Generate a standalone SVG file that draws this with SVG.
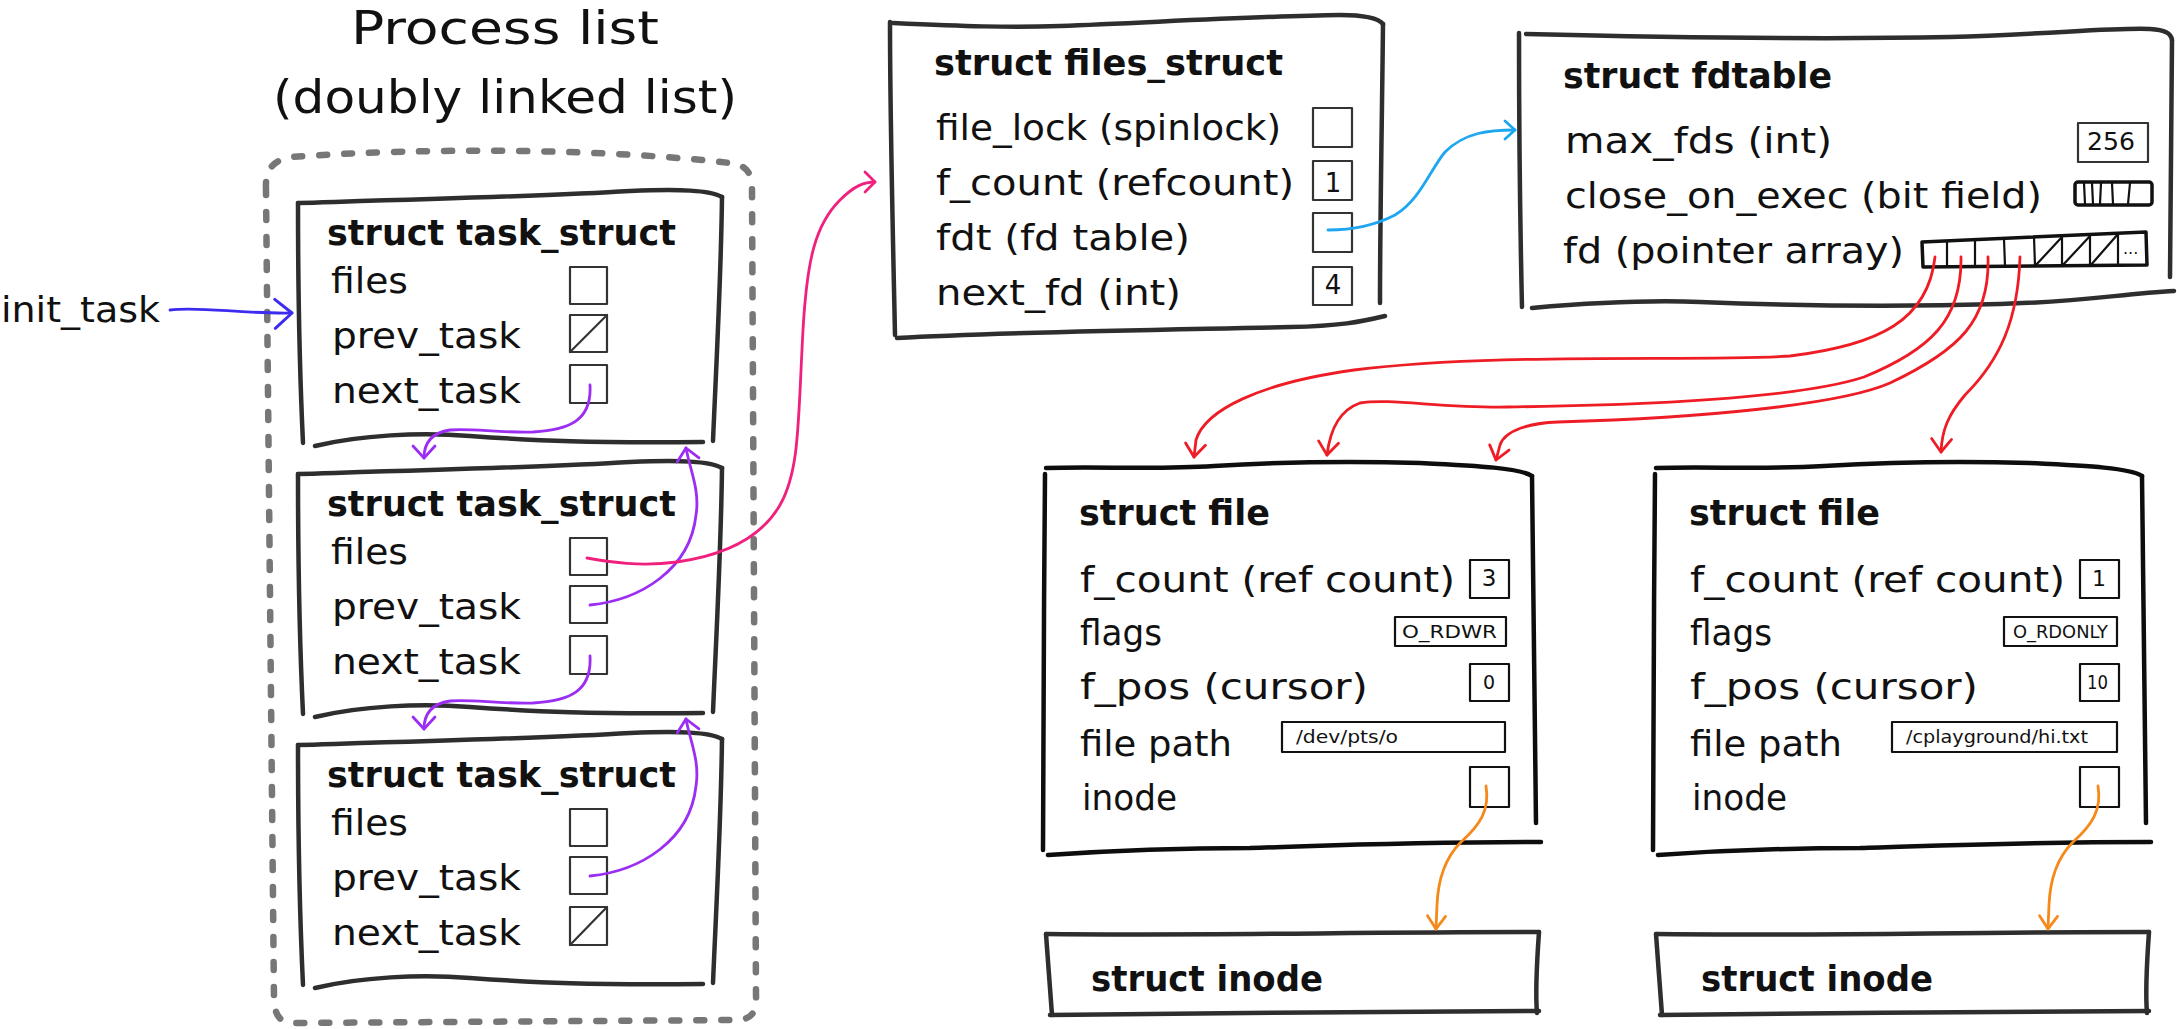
<svg xmlns="http://www.w3.org/2000/svg" width="2177" height="1029" viewBox="0 0 2177 1029">
<style>
.hand{font-family:"DejaVu Sans","Liberation Sans",sans-serif;font-size:36px;fill:#111}
.title{font-family:"DejaVu Sans","Liberation Sans",sans-serif;font-size:46px;fill:#111}
.bold{font-family:"DejaVu Sans","Liberation Sans",sans-serif;font-weight:bold;font-size:35px;fill:#111}
.val{font-family:"DejaVu Sans","Liberation Sans",sans-serif;fill:#111}
.frame{fill:none;stroke:#2e2e2e;stroke-width:4.5;stroke-linecap:round;stroke-linejoin:round}
.frameb{fill:none;stroke:#0d0d0d;stroke-width:4.5;stroke-linecap:round;stroke-linejoin:round}
.cell{fill:none;stroke:#333;stroke-width:2.2;stroke-linecap:round;stroke-linejoin:round}
.cellb{fill:none;stroke:#111;stroke-width:2.2;stroke-linecap:round;stroke-linejoin:round}
.thick{fill:none;stroke:#111;stroke-width:3.5;stroke-linecap:round;stroke-linejoin:round}
.dash{fill:none;stroke:#777;stroke-width:6.5;stroke-linecap:round;stroke-dasharray:8 17}
.conn{fill:none;stroke-width:2.8;stroke-linecap:round;stroke-linejoin:round}
</style>
<defs>
<marker id="ah-red" viewBox="-16 -14 20 28" markerWidth="20" markerHeight="28" refX="0" refY="0" orient="auto" markerUnits="userSpaceOnUse"><path d="M-13,-10 L0,0 L-13,10" fill="none" stroke="#ee1d25" stroke-width="2.8" stroke-linecap="round" stroke-linejoin="round"/></marker>
<marker id="ah-purple" viewBox="-16 -14 20 28" markerWidth="20" markerHeight="28" refX="0" refY="0" orient="auto" markerUnits="userSpaceOnUse"><path d="M-12,-11 L0,0 L-12,11" fill="none" stroke="#9b2ef2" stroke-width="2.8" stroke-linecap="round" stroke-linejoin="round"/></marker>
<marker id="ah-pink" viewBox="-16 -14 20 28" markerWidth="20" markerHeight="28" refX="0" refY="0" orient="auto" markerUnits="userSpaceOnUse"><path d="M-10,-10 L0,0 L-10,10" fill="none" stroke="#f0207f" stroke-width="2.8" stroke-linecap="round" stroke-linejoin="round"/></marker>
<marker id="ah-sky" viewBox="-16 -14 20 28" markerWidth="20" markerHeight="28" refX="0" refY="0" orient="auto" markerUnits="userSpaceOnUse"><path d="M-10,-9 L0,0 L-10,9" fill="none" stroke="#1ea7f0" stroke-width="2.8" stroke-linecap="round" stroke-linejoin="round"/></marker>
<marker id="ah-blue" viewBox="-20 -18 24 36" markerWidth="24" markerHeight="36" refX="0" refY="0" orient="auto" markerUnits="userSpaceOnUse"><path d="M-17,-14 L0,0 L-17,15" fill="none" stroke="#3d2cf0" stroke-width="3" stroke-linecap="round" stroke-linejoin="round"/></marker>
<marker id="ah-orange" viewBox="-16 -14 20 28" markerWidth="20" markerHeight="28" refX="0" refY="0" orient="auto" markerUnits="userSpaceOnUse"><path d="M-13,-9 L0,0 L-13,9" fill="none" stroke="#f5891a" stroke-width="2.8" stroke-linecap="round" stroke-linejoin="round"/></marker>
</defs>
<rect width="2177" height="1029" fill="#fff"/>

<g id="process-list">
<text class="title" x="351" y="44" textLength="308" lengthAdjust="spacingAndGlyphs">Process list</text>
<text class="title" x="273" y="113" textLength="464" lengthAdjust="spacingAndGlyphs">(doubly linked list)</text>
<path class="dash" d="M266,190 C265,170 272,160 292,157 C360,152 440,150 520,151 C600,152 680,157 730,163 C746,165 752,172 752,190 L756,995 C757,1012 752,1020 735,1020 L295,1023 C280,1023 275,1016 274,1000 Z"/>
</g>

<g id="init-task">
<text class="hand" x="1" y="322" textLength="159" lengthAdjust="spacingAndGlyphs">init_task</text>
</g>

<g id="task1">
<path class="frame" d="M298,203 C400,200 550,196 630,191 C680,189 710,190 722,197"/>
<path class="frame" d="M722,197 C721,280 716,370 713,441"/>
<path class="frame" d="M298,203 C298,280 300,380 303,443"/>
<path class="frame" d="M315,446 C360,435 420,432 470,436 C540,441 590,443 703,442"/>
<text class="bold" x="327" y="245" textLength="349" lengthAdjust="spacingAndGlyphs">struct task_struct</text>
<text class="hand" x="331" y="293" textLength="77" lengthAdjust="spacingAndGlyphs">files</text>
<text class="hand" x="332" y="348" textLength="189" lengthAdjust="spacingAndGlyphs">prev_task</text>
<text class="hand" x="332" y="403" textLength="189" lengthAdjust="spacingAndGlyphs">next_task</text>
<rect class="cell" x="570" y="267" width="37" height="37"/>
<rect class="cell" x="570" y="315" width="37" height="37"/>
<path class="cell" d="M570,352 L607,315"/>
<rect class="cell" x="570" y="365" width="37" height="38"/>
</g>

<g id="task2" transform="translate(0,271)">
<path class="frame" d="M298,203 C400,200 550,196 630,191 C680,189 710,190 722,197"/>
<path class="frame" d="M722,197 C721,280 716,370 713,441"/>
<path class="frame" d="M298,203 C298,280 300,380 303,443"/>
<path class="frame" d="M315,446 C360,435 420,432 470,436 C540,441 590,443 703,442"/>
<text class="bold" x="327" y="245" textLength="349" lengthAdjust="spacingAndGlyphs">struct task_struct</text>
<text class="hand" x="331" y="293" textLength="77" lengthAdjust="spacingAndGlyphs">files</text>
<text class="hand" x="332" y="348" textLength="189" lengthAdjust="spacingAndGlyphs">prev_task</text>
<text class="hand" x="332" y="403" textLength="189" lengthAdjust="spacingAndGlyphs">next_task</text>
<rect class="cell" x="570" y="267" width="37" height="37"/>
<rect class="cell" x="570" y="315" width="37" height="37"/>
<rect class="cell" x="570" y="365" width="37" height="38"/>
</g>

<g id="task3" transform="translate(0,542)">
<path class="frame" d="M298,203 C400,200 550,196 630,191 C680,189 710,190 722,197"/>
<path class="frame" d="M722,197 C721,280 716,370 713,441"/>
<path class="frame" d="M298,203 C298,280 300,380 303,443"/>
<path class="frame" d="M315,446 C360,435 420,432 470,436 C540,441 590,443 703,442"/>
<text class="bold" x="327" y="245" textLength="349" lengthAdjust="spacingAndGlyphs">struct task_struct</text>
<text class="hand" x="331" y="293" textLength="77" lengthAdjust="spacingAndGlyphs">files</text>
<text class="hand" x="332" y="348" textLength="189" lengthAdjust="spacingAndGlyphs">prev_task</text>
<text class="hand" x="332" y="403" textLength="189" lengthAdjust="spacingAndGlyphs">next_task</text>
<rect class="cell" x="570" y="267" width="37" height="37"/>
<rect class="cell" x="570" y="315" width="37" height="37"/>
<rect class="cell" x="570" y="365" width="37" height="38"/>
<path class="cell" d="M570,403 L607,365"/>
</g>

<g id="files-struct">
<path class="frame" d="M893,23 C960,26 1010,28 1060,26 C1160,22 1260,16 1340,15 C1365,15 1378,18 1383,24"/>
<path class="frame" d="M1383,24 C1382,120 1380,220 1380,303"/>
<path class="frame" d="M890,22 C890,120 893,240 895,335"/>
<path class="frame" d="M897,338 C1000,332 1150,330 1290,327 C1340,326 1360,322 1385,316"/>
<text class="bold" x="934" y="75" textLength="349" lengthAdjust="spacingAndGlyphs">struct files_struct</text>
<text class="hand" x="936" y="140" textLength="345" lengthAdjust="spacingAndGlyphs">file_lock (spinlock)</text>
<text class="hand" x="936" y="195" textLength="358" lengthAdjust="spacingAndGlyphs">f_count (refcount)</text>
<text class="hand" x="936" y="250" textLength="254" lengthAdjust="spacingAndGlyphs">fdt (fd table)</text>
<text class="hand" x="936" y="305" textLength="245" lengthAdjust="spacingAndGlyphs">next_fd (int)</text>
<rect class="cell" x="1313" y="108" width="39" height="39"/>
<rect class="cell" x="1313" y="161" width="39" height="39"/>
<text class="val" x="1333" y="192" font-size="26" text-anchor="middle">1</text>
<rect class="cell" x="1313" y="213" width="39" height="39"/>
<rect class="cell" x="1313" y="267" width="39" height="38"/>
<text class="val" x="1333" y="294" font-size="26" text-anchor="middle">4</text>
</g>

<g id="fdtable">
<path class="frame" d="M1526,34 C1650,37 1800,40 1950,37 C2050,34 2120,27 2150,29 C2165,30 2171,33 2172,40"/>
<path class="frame" d="M2172,40 C2171,120 2171,200 2170,277"/>
<path class="frame" d="M1519,33 C1519,120 1520,220 1522,307"/>
<path class="frame" d="M1532,308 C1600,302 1650,300 1700,302 C1800,306 1900,307 2000,304 C2080,302 2120,294 2174,291"/>
<text class="bold" x="1563" y="88" textLength="269" lengthAdjust="spacingAndGlyphs">struct fdtable</text>
<text class="hand" x="1565" y="153" textLength="267" lengthAdjust="spacingAndGlyphs">max_fds (int)</text>
<text class="hand" x="1565" y="208" textLength="477" lengthAdjust="spacingAndGlyphs">close_on_exec (bit field)</text>
<text class="hand" x="1563" y="263" textLength="341" lengthAdjust="spacingAndGlyphs">fd (pointer array)</text>
<rect class="cell" x="2078" y="123" width="70" height="39"/>
<text class="val" x="2087" y="150" font-size="25" textLength="48" lengthAdjust="spacingAndGlyphs">256</text>
<rect class="thick" x="2075" y="182" width="77" height="23" rx="3"/>
<path class="cellb" d="M2084,183 L2085,204 M2092,183 L2093,204 M2101,183 L2100,204 M2112,183 L2113,204 M2130,183 L2128,204"/>
<path class="thick" d="M1922,242 L2146,232 L2147,265 L1923,267 Z"/>
<path class="cellb" d="M1947,241 L1947,266 M1975,240 L1975,266 M2004,239 L2005,266 M2034,237 L2035,266 M2062,236 L2062,266 M2090,235 L2090,266 M2118,233 L2118,265 M2035,266 L2062,237 M2062,266 L2090,236 M2090,266 L2118,234"/>
<text class="val" x="2123" y="254" font-size="16">...</text>
</g>

<g id="file1">
<path class="frameb" d="M1046,468 C1100,466 1150,470 1214,466 C1280,462 1357,461 1420,463 C1480,466 1520,468 1532,476"/>
<path class="frameb" d="M1532,476 C1533,600 1535,720 1536,823"/>
<path class="frameb" d="M1045,474 C1044,600 1043,750 1043,850"/>
<path class="frameb" d="M1048,855 C1120,850 1200,848 1250,848 C1320,846 1400,842 1541,842"/>
<text class="bold" x="1079" y="525" textLength="191" lengthAdjust="spacingAndGlyphs">struct file</text>
<text class="hand" x="1080" y="592" textLength="375" lengthAdjust="spacingAndGlyphs">f_count (ref count)</text>
<text class="hand" x="1080" y="645" textLength="82" lengthAdjust="spacingAndGlyphs">flags</text>
<text class="hand" x="1080" y="699" textLength="288" lengthAdjust="spacingAndGlyphs">f_pos (cursor)</text>
<text class="hand" x="1080" y="756" textLength="152" lengthAdjust="spacingAndGlyphs">file path</text>
<text class="hand" x="1082" y="810" textLength="95" lengthAdjust="spacingAndGlyphs">inode</text>
<rect class="cellb" x="1470" y="560" width="39" height="38"/>
<text class="val" x="1489" y="586" font-size="23" text-anchor="middle">3</text>
<rect class="cellb" x="1395" y="617" width="111" height="29"/>
<text class="val" x="1402" y="638" font-size="18" textLength="95" lengthAdjust="spacingAndGlyphs">O_RDWR</text>
<rect class="cellb" x="1470" y="664" width="39" height="37"/>
<text class="val" x="1489" y="689" font-size="19" text-anchor="middle">0</text>
<rect class="cellb" x="1282" y="722" width="223" height="30"/>
<text class="val" x="1296" y="743" font-size="18" textLength="102" lengthAdjust="spacingAndGlyphs">/dev/pts/o</text>
<rect class="cellb" x="1470" y="767" width="39" height="40"/>
</g>

<g id="file2" transform="translate(610,0)">
<path class="frameb" d="M1046,468 C1100,466 1150,470 1214,466 C1280,462 1357,461 1420,463 C1480,466 1520,468 1532,476"/>
<path class="frameb" d="M1532,476 C1533,600 1535,720 1536,823"/>
<path class="frameb" d="M1045,474 C1044,600 1043,750 1043,850"/>
<path class="frameb" d="M1048,855 C1120,850 1200,848 1250,848 C1320,846 1400,842 1541,842"/>
<text class="bold" x="1079" y="525" textLength="191" lengthAdjust="spacingAndGlyphs">struct file</text>
<text class="hand" x="1080" y="592" textLength="375" lengthAdjust="spacingAndGlyphs">f_count (ref count)</text>
<text class="hand" x="1080" y="645" textLength="82" lengthAdjust="spacingAndGlyphs">flags</text>
<text class="hand" x="1080" y="699" textLength="288" lengthAdjust="spacingAndGlyphs">f_pos (cursor)</text>
<text class="hand" x="1080" y="756" textLength="152" lengthAdjust="spacingAndGlyphs">file path</text>
<text class="hand" x="1082" y="810" textLength="95" lengthAdjust="spacingAndGlyphs">inode</text>
<rect class="cellb" x="1470" y="560" width="39" height="38"/>
<text class="val" x="1489" y="586" font-size="22" text-anchor="middle">1</text>
<rect class="cellb" x="1394" y="617" width="113" height="29"/>
<text class="val" x="1403" y="638" font-size="17" textLength="95" lengthAdjust="spacingAndGlyphs">O_RDONLY</text>
<rect class="cellb" x="1470" y="664" width="39" height="37"/>
<text class="val" x="1477" y="689" font-size="19" textLength="21" lengthAdjust="spacingAndGlyphs">10</text>
<rect class="cellb" x="1282" y="722" width="225" height="30"/>
<text class="val" x="1296" y="743" font-size="18" textLength="182" lengthAdjust="spacingAndGlyphs">/cplayground/hi.txt</text>
<rect class="cellb" x="1470" y="767" width="39" height="40"/>
</g>

<g id="inode1">
<path class="frame" d="M1046,934 C1200,936 1350,932 1539,932"/>
<path class="frame" d="M1539,932 C1537,960 1535,990 1537,1013"/>
<path class="frame" d="M1046,934 C1048,960 1050,990 1052,1015"/>
<path class="frame" d="M1050,1015 C1200,1013 1400,1012 1539,1011"/>
<text class="bold" x="1091" y="991" textLength="232" lengthAdjust="spacingAndGlyphs">struct inode</text>
</g>

<g id="inode2" transform="translate(610,0)">
<path class="frame" d="M1046,934 C1200,936 1350,932 1539,932"/>
<path class="frame" d="M1539,932 C1537,960 1535,990 1537,1013"/>
<path class="frame" d="M1046,934 C1048,960 1050,990 1052,1015"/>
<path class="frame" d="M1050,1015 C1200,1013 1400,1012 1539,1011"/>
<text class="bold" x="1091" y="991" textLength="232" lengthAdjust="spacingAndGlyphs">struct inode</text>
</g>

<g id="connectors">
<path class="conn" stroke="#3d2cf0" marker-end="url(#ah-blue)" d="M170,310 C200,306 240,314 292,313"/>
<path class="conn" stroke="#9b2ef2" marker-end="url(#ah-purple)" d="M590,385 C592,420 570,430 533,432 C500,433 470,428 450,430 C430,433 424,445 424,458"/>
<path class="conn" stroke="#9b2ef2" marker-end="url(#ah-purple)" d="M590,605 C640,600 690,570 696,515 C700,490 690,470 686,448"/>
<path class="conn" stroke="#9b2ef2" marker-end="url(#ah-purple)" d="M590,656 C592,691 570,701 533,703 C500,704 470,699 450,701 C430,704 424,716 424,729"/>
<path class="conn" stroke="#9b2ef2" marker-end="url(#ah-purple)" d="M590,876 C640,871 690,841 696,786 C700,761 690,741 686,719"/>
<path class="conn" stroke="#f0207f" marker-end="url(#ah-pink)" d="M587,558 C610,562 640,567 677,562 C720,556 760,540 780,505 C800,470 798,420 803,330 C807,260 815,225 840,200 C855,185 865,182 875,182"/>
<path class="conn" stroke="#1ea7f0" marker-end="url(#ah-sky)" d="M1328,230 C1350,230 1372,227 1395,215 C1420,200 1430,170 1445,152 C1465,132 1490,130 1515,130"/>
<path class="conn" stroke="#ee1d25" marker-end="url(#ah-red)" d="M1935,257 C1928,320 1880,345 1790,356 C1700,362 1500,352 1354,370 C1260,383 1205,410 1196,440 L1194,457"/>
<path class="conn" stroke="#ee1d25" marker-end="url(#ah-red)" d="M1961,257 C1962,320 1930,350 1864,377 C1800,398 1650,405 1507,407 C1440,408 1390,398 1360,403 C1340,410 1330,430 1327,455"/>
<path class="conn" stroke="#ee1d25" marker-end="url(#ah-red)" d="M1988,257 C1990,320 1960,350 1890,383 C1840,405 1700,418 1558,422 C1530,423 1505,430 1500,445 L1496,460"/>
<path class="conn" stroke="#ee1d25" marker-end="url(#ah-red)" d="M2020,257 C2018,320 2000,360 1965,395 C1948,415 1942,430 1941,452"/>
<path class="conn" stroke="#f5891a" marker-end="url(#ah-orange)" d="M1486,786 C1490,810 1480,825 1461,842 C1445,858 1438,880 1437,905 L1436,929"/>
<path class="conn" stroke="#f5891a" marker-end="url(#ah-orange)" d="M2098,786 C2102,810 2092,825 2073,842 C2057,858 2050,880 2049,905 L2048,929"/>
</g>
</svg>
